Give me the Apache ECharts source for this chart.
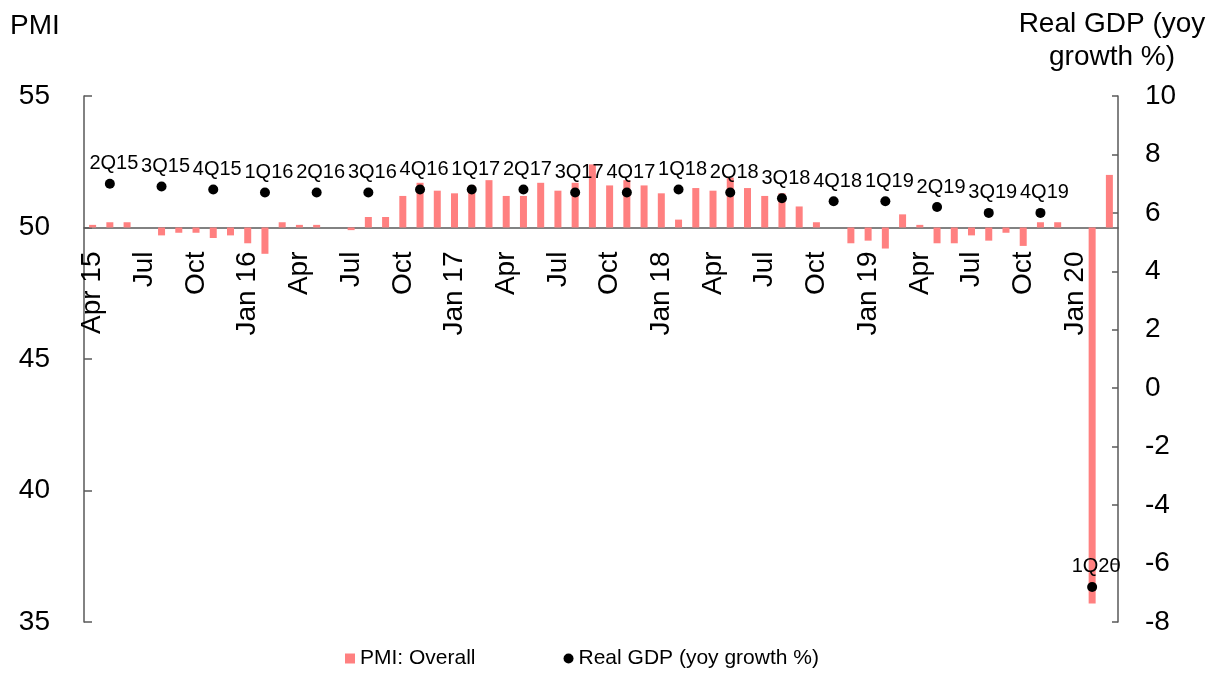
<!DOCTYPE html>
<html>
<head>
<meta charset="utf-8">
<script src="https://cdn.jsdelivr.net/npm/echarts@6/dist/echarts.min.js"></script>
<style>
  html, body { margin: 0; padding: 0; background: #ffffff; }
  #chart { width: 1220px; height: 681px; }
</style>
</head>
<body>
<div id="chart"></div>
<script>
const months = [
  'Apr 15','May 15','Jun 15','Jul 15','Aug 15','Sep 15','Oct 15','Nov 15','Dec 15',
  'Jan 16','Feb 16','Mar 16','Apr 16','May 16','Jun 16','Jul 16','Aug 16','Sep 16','Oct 16','Nov 16','Dec 16',
  'Jan 17','Feb 17','Mar 17','Apr 17','May 17','Jun 17','Jul 17','Aug 17','Sep 17','Oct 17','Nov 17','Dec 17',
  'Jan 18','Feb 18','Mar 18','Apr 18','May 18','Jun 18','Jul 18','Aug 18','Sep 18','Oct 18','Nov 18','Dec 18',
  'Jan 19','Feb 19','Mar 19','Apr 19','May 19','Jun 19','Jul 19','Aug 19','Sep 19','Oct 19','Nov 19','Dec 19',
  'Jan 20','Feb 20','Mar 20'
];
const pmiOverall = [
  50.1,50.2,50.2,50.0,49.7,49.8,49.8,49.6,49.7,
  49.4,49.0,50.2,50.1,50.1,50.0,49.9,50.4,50.4,51.2,51.7,51.4,
  51.3,51.6,51.8,51.2,51.2,51.7,51.4,51.7,52.4,51.6,51.8,51.6,
  51.3,50.3,51.5,51.4,51.9,51.5,51.2,51.3,50.8,50.2,50.0,49.4,
  49.5,49.2,50.5,50.1,49.4,49.4,49.7,49.5,49.8,49.3,50.2,50.2,
  50.0,35.7,52.0
];
const quarters = ['2Q15','3Q15','4Q15','1Q16','2Q16','3Q16','4Q16','1Q17','2Q17','3Q17',
  '4Q17','1Q18','2Q18','3Q18','4Q18','1Q19','2Q19','3Q19','4Q19','1Q20'];
// month at the middle of each quarter
const quarterMonth = ['May 15','Aug 15','Nov 15','Feb 16','May 16','Aug 16','Nov 16','Feb 17','May 17','Aug 17',
  'Nov 17','Feb 18','May 18','Aug 18','Nov 18','Feb 19','May 19','Aug 19','Nov 19','Feb 20'];
const realGDP = [7.0,6.9,6.8,6.7,6.7,6.7,6.8,6.8,6.8,6.7,6.7,6.8,6.7,6.5,6.4,6.4,6.2,6.0,6.0,-6.8];
const pmiTicks = [35, 40, 45, 50, 55];
const gdpTicks = [-8, 10];
const PMI_BASE = 50;

const FONT = 'Liberation Sans, Arial, sans-serif';
const AXIS_COLOR = '#595959';

const chart = echarts.init(document.getElementById('chart'), null, { renderer: 'canvas' });

const option = {
  backgroundColor: '#ffffff',
  animation: false,
  textStyle: { fontFamily: FONT },
  title: [
    { text: 'PMI', left: 10, top: 12, padding: 0,
      textStyle: { fontSize: 28, fontWeight: 'normal', color: '#000', fontFamily: FONT } },
    { text: 'Real GDP (yoy\ngrowth %)', left: 1112, top: 8, padding: 0, textAlign: 'center',
      textStyle: { fontSize: 28, fontWeight: 'normal', color: '#000', fontFamily: FONT, lineHeight: 33 } }
  ],
  legend: {
    top: 643,
    left: 340,
    itemGap: 88,
    itemWidth: 10,
    itemHeight: 10,
    textStyle: { fontSize: 21, color: '#000', fontFamily: FONT },
    data: [
      { name: 'PMI: Overall', icon: 'rect' },
      { name: 'Real GDP (yoy growth %)', icon: 'circle', itemStyle: { color: '#000', opacity: 1 } }
    ]
  },
  grid: { left: 84, right: 102, top: 96, bottom: 59, containLabel: false, outerBoundsMode: 'none' },
  xAxis: {
    type: 'category',
    data: months,
    position: 'bottom',
    offset: 0,
    axisLine: { show: true, onZero: false, lineStyle: { color: AXIS_COLOR, width: 1.5 } },
    axisTick: { show: false },
    axisLabel: {
      interval: 2,
      rotate: 90,
      margin: 24,
      fontSize: 28,
      color: '#000',
      fontFamily: FONT,
      formatter: function (v, i) {
        return (i === 0 || v.indexOf('Jan') === 0) ? v : v.slice(0, 3);
      }
    },
    splitLine: { show: false }
  },
  yAxis: [
    {
      type: 'value',
      position: 'left',
      min: pmiTicks[0] - PMI_BASE,
      max: pmiTicks[pmiTicks.length - 1] - PMI_BASE,
      interval: 5,
      axisLine: { show: true, lineStyle: { color: AXIS_COLOR, width: 1.5 } },
      axisTick: { show: true, inside: true, length: 8, lineStyle: { color: AXIS_COLOR, width: 1.5 } },
      axisLabel: { fontSize: 28, color: '#000', margin: 34, fontFamily: FONT,
                   formatter: function (v) { return String(v + PMI_BASE); } },
      splitLine: { show: false }
    },
    {
      type: 'value',
      position: 'right',
      min: gdpTicks[0],
      max: gdpTicks[1],
      interval: 2,
      axisLine: { show: true, lineStyle: { color: AXIS_COLOR, width: 1.5 } },
      axisTick: { show: true, inside: true, length: 6, lineStyle: { color: AXIS_COLOR, width: 1.5 } },
      axisLabel: { fontSize: 28, color: '#000', margin: 27, fontFamily: FONT },
      splitLine: { show: false }
    }
  ],
  series: [
    {
      name: 'PMI: Overall',
      type: 'bar',
      yAxisIndex: 0,
      barWidth: 7,
      itemStyle: { color: '#FF8080' },
      data: pmiOverall.map(v => +(v - PMI_BASE).toFixed(2))
    },
    {
      name: 'Real GDP (yoy growth %)',
      type: 'scatter',
      yAxisIndex: 1,
      symbol: 'circle',
      symbolSize: 10,
      itemStyle: { color: '#000', opacity: 1 },
      label: {
        show: true,
        position: 'top',
        distance: 5,
        offset: [4, 0],
        fontSize: 20,
        color: '#000',
        fontFamily: FONT,
        formatter: function (p) { return quarters[p.dataIndex]; }
      },
      data: realGDP.map((v, i) => [quarterMonth[i], v]),
      z: 5
    }
  ]
};

chart.setOption(option);

// Place the category axis where the PMI scale crosses 50, using the library's own scale.
const yBase = chart.convertToPixel({ yAxisIndex: 0 }, 0);
const yBottom = chart.convertToPixel({ yAxisIndex: 0 }, pmiTicks[0] - PMI_BASE);
chart.setOption({ xAxis: { offset: yBase - yBottom } });
</script>
</body>
</html>
